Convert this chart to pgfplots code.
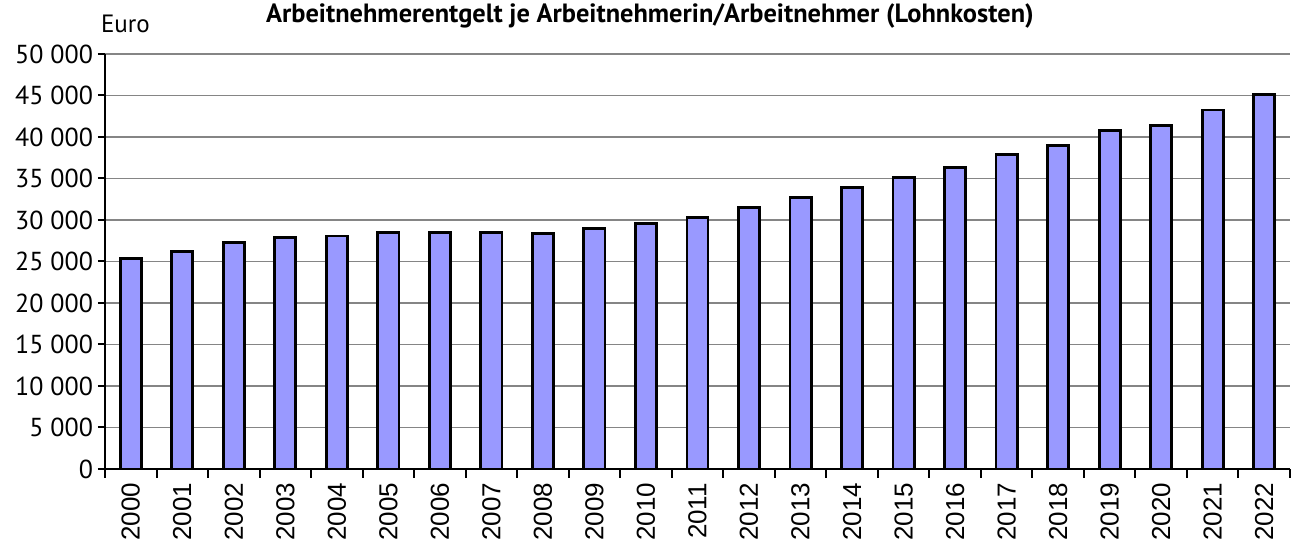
\documentclass[border=0pt]{standalone}
\usepackage{fontspec}
\setmainfont{PT Sans}
\newfontfamily\yearfont{Liberation Sans}
\usepackage{pgfplots}
\pgfplotsset{compat=1.18}
\definecolor{barfill}{HTML}{9999FF}
\definecolor{gridgray}{HTML}{858585}
\newcommand\yr[1]{\mbox{\yearfont #1}}
\begin{document}
\begin{tikzpicture}
\begin{axis}[
    at={(0,0)}, anchor=south west,
    width=592.5pt, height=207.5pt, scale only axis,
    xmin=-0.5, xmax=22.5,
    ymin=0, ymax=50000,
    axis x line*=bottom, axis y line*=left,
    axis line style={line width=1pt},
    ytick={0,5000,...,50000},
    scaled y ticks=false,
    yticklabel style={/pgf/number format/assume math mode=true,
        /pgf/number format/1000 sep={\ }, font=\fontsize{13}{14}\selectfont,
        xshift=1pt},
    xtick={0,...,22},
    xticklabels={\yr{2000},\yr{2001},\yr{2002},\yr{2003},\yr{2004},\yr{2005},
        \yr{2006},\yr{2007},\yr{2008},\yr{2009},\yr{2010},\yr{2011},\yr{2012},
        \yr{2013},\yr{2014},\yr{2015},\yr{2016},\yr{2017},\yr{2018},\yr{2019},
        \yr{2020},\yr{2021},\yr{2022}},
    xticklabel style={rotate=90, anchor=east, font=\fontsize{13}{13}\selectfont},
    minor xtick={-0.5,0.5,...,22.5},
    major x tick style={draw=none},
    tick align=outside,
    major tick length=3.5pt, minor tick length=4.5pt,
    tick style={black, line width=1pt},
    ymajorgrids,
    major grid style={gridgray, line width=0.9pt},
    ybar, bar width=0.41,
]
\addplot[fill=barfill, draw=black, line width=1.4pt] coordinates {
    (0,25400) (1,26200) (2,27300) (3,27900) (4,28070) (5,28500)
    (6,28500) (7,28500) (8,28400) (9,29000) (10,29600) (11,30300)
    (12,31500) (13,32700) (14,33900) (15,35100) (16,36300) (17,37900)
    (18,39000) (19,40800) (20,41350) (21,43250) (22,45100)
};
\end{axis}
\node[anchor=base west, font=\fontsize{12.5}{14}\selectfont] at (-5.5pt,218pt) {Euro};
\node[anchor=base, font=\bfseries\fontsize{13.2}{15}\selectfont] at (272.5pt,223pt)
    {Arbeitnehmerentgelt je Arbeitnehmerin/Arbeitnehmer (Lohnkosten)};
\pgfresetboundingbox
\useasboundingbox (-52.5pt,-37.5pt) rectangle (596pt,234.5pt);
\end{tikzpicture}
\end{document}
